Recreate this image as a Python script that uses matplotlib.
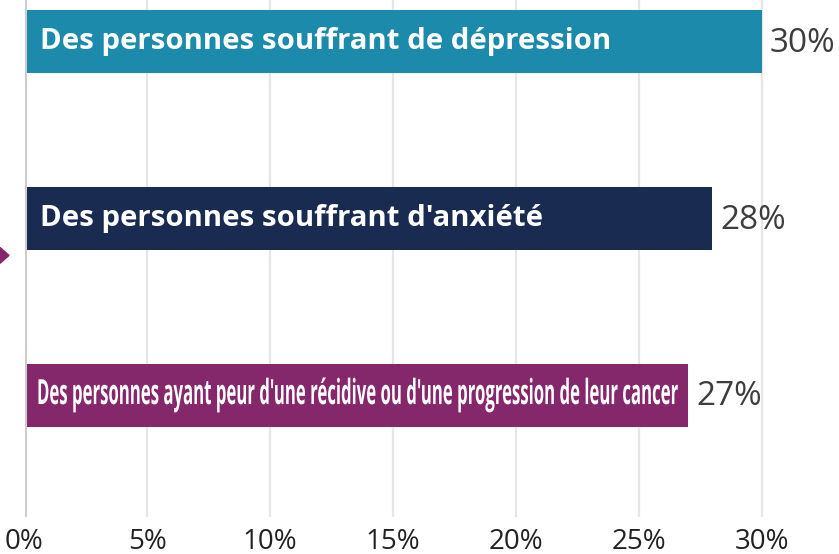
import numpy as np
import matplotlib
matplotlib.use("Agg")
import matplotlib.pyplot as plt
from matplotlib.patches import Polygon
from matplotlib.patheffects import AbstractPathEffect
from matplotlib.transforms import Affine2D, blended_transform_factory

# data
labels = ["Des personnes souffrant de dépression",
          "Des personnes souffrant d'anxiété",
          "Des personnes ayant peur d'une récidive ou d'une progression de leur cancer"]
values = [30, 28, 27]
colors = ["#1B8AAB", "#1A2B52", "#85276B"]
ticks = [0, 5, 10, 15, 20, 25, 30]
tick_labels = ["0%", "5%", "10%", "15%", "20%", "25%", "30%"]


class Squeeze(AbstractPathEffect):
    """squash the glyphs horizontally (condensed look), anchored at the text start"""

    def __init__(self, sx):
        super().__init__()
        self.sx = sx

    def draw_path(self, renderer, gc, tpath, affine, rgbFace=None):
        renderer.draw_path(gc, tpath, Affine2D().scale(self.sx, 1) + affine, rgbFace)


W, H = 839, 554
fig = plt.figure(figsize=(W / 100, H / 100), dpi=100)
ax = fig.add_axes([24.5 / W, 1 - 517 / H, 1 - 24.5 / W, 517 / H])

y = np.arange(len(values))
ax.barh(y, values, height=0.356, color=colors, zorder=3)

ax.set_xlim(0, (W - 24.5) / 24.57)
ax.set_ylim(2.69, -0.235)

# grid
for t in ticks[1:]:
    ax.axvline(t, color="#e6e6e6", lw=1.6, zorder=1)
ax.axvline(0, color="#cccccc", lw=2.2, zorder=4)

ax.set_xticks(ticks)
ax.set_xticklabels(tick_labels, fontsize=20, color="#222222", family="Open Sans")
ax.tick_params(axis="x", length=0, pad=8)
ax.set_yticks([])
for s in ax.spines.values():
    s.set_visible(False)

# labels in bars
px = 1 / 24.57
sizes = [21.2, 21.2, 25]
offs = [15.5, 15.5, 12.5]
texts = []
for i, (lab, v) in enumerate(zip(labels, values)):
    t = ax.text(offs[i] * px, i, lab, color="white", fontweight="bold",
                fontsize=sizes[i], family="Open Sans", va="center", ha="left", zorder=5)
    texts.append(t)
    ax.text(v + 8 * px, i + 0.01, f"{v}%", color="#3d3d3d", fontsize=24,
            family="Open Sans", va="center", ha="left", zorder=5)

# third label is condensed in the original: squeeze it to fit the bar
r = fig.canvas.get_renderer()
w3 = texts[2].get_window_extent(renderer=r).width
texts[2].set_path_effects([Squeeze(641 / w3)])

# small purple arrow at left edge
tr = blended_transform_factory(fig.transFigure, ax.transData)
tri = Polygon([[0, 1.165], [9 / W, 1.21], [0, 1.255]], closed=True,
              transform=tr, color="#85276B", clip_on=False)
fig.patches.append(tri)

fig.savefig("out.png", dpi=100)
